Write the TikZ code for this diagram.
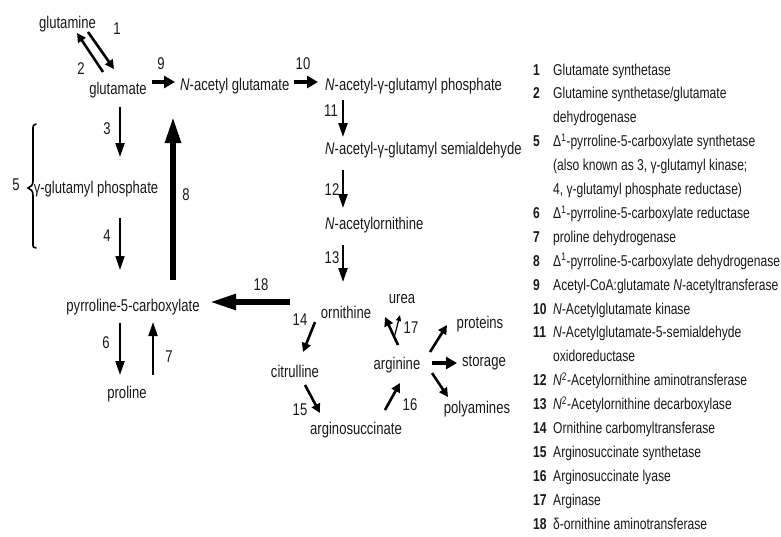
\documentclass[tikz,border=0pt]{standalone}
\usepackage{fontspec}
\newfontfamily\condsans{Liberation Sans}[FakeStretch=0.77]
\usetikzlibrary{arrows.meta}

\begin{document}
\begin{tikzpicture}[x=1pt,y=-1pt,
  font=\condsans\fontsize{17}{20}\selectfont, text=black!90,
  cmp/.style={inner sep=2pt,text height=12pt,text depth=3.5pt},
  num/.style={inner sep=0pt},
  arrA/.style={line width=2.6pt,-{Triangle[length=9pt,width=9pt]}},
  arrV/.style={line width=2.2pt,-{Triangle[length=14pt,width=9pt]}},
  arrB/.style={line width=4pt,-{Triangle[length=11pt,width=12pt]}},
  arrC/.style={line width=5.5pt,-{Triangle[length=26pt,width=15pt]}},
  arrT/.style={line width=1.2pt,-{Triangle[length=6pt,width=5pt]}},
]
\useasboundingbox (0,0) rectangle (781,536);

% ---------------- compounds ----------------
\node[cmp] (glutamine) at (67.5,24) {glutamine};
\node[cmp] (glutamate) at (118,90) {glutamate};
\node[cmp,anchor=west] (nacglu) at (178,86) {\textit{N}-acetyl glutamate};
\node[cmp,anchor=west] (nacglup) at (323,86) {\textit{N}-acetyl-γ-glutamyl phosphate};
\node[cmp,anchor=west] (nacsemi) at (323,150) {\textit{N}-acetyl-γ-glutamyl semialdehyde};
\node[cmp,anchor=west] (nacorn) at (323,225) {\textit{N}-acetylornithine};
\node[cmp] (ornithine) at (346,314) {ornithine};
\node[cmp] (urea) at (402,299) {urea};
\node[cmp] (gglup) at (96,189) {γ-glutamyl phosphate};
\node[cmp] (pfc) at (133,307) {pyrroline-5-carboxylate};
\node[cmp] (proline) at (127,394) {proline};
\node[cmp] (citrulline) at (295,373) {citrulline};
\node[cmp] (argsucc) at (356,430) {arginosuccinate};
\node[cmp] (arginine) at (397,365) {arginine};
\node[cmp] (proteins) at (480,324) {proteins};
\node[cmp] (storage) at (484,362) {storage};
\node[cmp] (polyamines) at (477,409) {polyamines};

% ---------------- reactions ----------------
\draw[arrA] ([shift={(20.5,8)}]glutamine.center) -- ([shift={(-4,-21)}]glutamate.center);
\draw[arrA] ([shift={(-15,-18)}]glutamate.center) -- ([shift={(9.5,9)}]glutamine.center);
\draw[arrB] ([shift={(34,-8)}]glutamate.center) -- ([shift={(-3,-4)}]nacglu.west);
\draw[arrB] ([shift={(2,-4)}]nacglu.east) -- ([shift={(-5,-4)}]nacglup.west);
\draw[arrV] ([shift={(20,14)}]nacglup.west) -- ([shift={(20,-13)}]nacsemi.west);
\draw[arrV] ([shift={(20,20)}]nacsemi.west) -- ([shift={(20,-17)}]nacorn.west);
\draw[arrV] ([shift={(20,20)}]nacorn.west) -- ([shift={(-3,-32)}]ornithine.center);
\draw[arrC] ([shift={(-56,-12)}]ornithine.center) -- ([shift={(77,-5)}]pfc.center);
\draw[arrV] ([shift={(2,17)}]glutamate.center) -- ([shift={(24,-32)}]gglup.center);
\draw[arrV,line width=1.4pt] ([shift={(24,29)}]gglup.center) -- ([shift={(-13,-37)}]pfc.center);
\draw[arrV] ([shift={(-13,16)}]pfc.center) -- ([shift={(-7,-19)}]proline.center);
\draw[arrV] ([shift={(26,-19)}]proline.center) -- ([shift={(20,15)}]pfc.center);
\draw[arrC] ([shift={(40,-27)}]pfc.center) -- ([shift={(55,27)}]glutamate.center);
\draw[arrA] ([shift={(-31,8)}]ornithine.center) -- ([shift={(8,-21)}]citrulline.center);
\draw[arrA] ([shift={(10,12)}]citrulline.center) -- ([shift={(-36,-17)}]argsucc.center);
\draw[arrA] ([shift={(29,-20)}]argsucc.center) -- ([shift={(3,18)}]arginine.center);
\draw[arrA] ([shift={(1,-20)}]arginine.center) -- ([shift={(-12,-48)}]arginine.center);
\draw[arrT] ([shift={(-3,-27)}]arginine.center) -- ([shift={(-2,16)}]urea.center);
\draw[arrA] ([shift={(33,-13)}]arginine.center) -- ([shift={(-33,1)}]proteins.center);
\draw[arrB] ([shift={(35,-2)}]arginine.center) -- ([shift={(-27,1)}]storage.center);
\draw[arrA] ([shift={(35,8)}]arginine.center) -- ([shift={(-29,-12)}]polyamines.center);

% brace for 5
\draw[line width=1.6pt,line cap=round] (36,124) .. controls (33,124) and (33,126) .. (33,130)
  -- (33,181) .. controls (33,185) and (31,187) .. (28,188)
  .. controls (31,189) and (33,191) .. (33,195) -- (33,243)
  .. controls (33,247) and (33,248) .. (36,248);

% ---------------- step numbers ----------------
\node[num] (n1) at (117,29) {1};
\node[num] (n2) at (81,69) {2};
\node[num] (n3) at (107,129) {3};
\node[num] (n4) at (107,236) {4};
\node[num] (n5) at (16,185) {5};
\node[num] (n6) at (106,343) {6};
\node[num] (n7) at (169,357) {7};
\node[num] (n8) at (186,195) {8};
\node[num] (n9) at (161,64) {9};
\node[num] (n10) at (303,64) {10};
\node[num] (n11) at (331,111) {11};
\node[num] (n12) at (332,190) {12};
\node[num] (n13) at (332,258) {13};
\node[num] (n14) at (300,320) {14};
\node[num] (n15) at (300,410) {15};
\node[num] (n16) at (410,405) {16};
\node[num] (n17) at (411,328) {17};
\node[num] (n18) at (261,285) {18};

% ---------------- enzyme key ----------------
\node[inner sep=0pt,anchor=base west,font=\condsans\fontsize{15.7}{23.9}\selectfont] (key) at (533,75)
  {\begin{tabular}[t]{@{}p{20pt}@{}l@{}}
   \textbf{1} & Glutamate synthetase\\
   \textbf{2} & Glutamine synthetase/glutamate\\
              & dehydrogenase\\
   \textbf{5} & Δ\textsuperscript{1}-pyrroline-5-carboxylate synthetase\\
              & (also known as 3, γ-glutamyl kinase;\\
              & 4, γ-glutamyl phosphate reductase)\\
   \textbf{6} & Δ\textsuperscript{1}-pyrroline-5-carboxylate reductase\\
   \textbf{7} & proline dehydrogenase\\
   \textbf{8} & Δ\textsuperscript{1}-pyrroline-5-carboxylate dehydrogenase\\
   \textbf{9} & Acetyl-CoA:glutamate \textit{N}-acetyltransferase\\
   \textbf{10} & \textit{N}-Acetylglutamate kinase\\
   \textbf{11} & \textit{N}-Acetylglutamate-5-semialdehyde\\
               & oxidoreductase\\
   \textbf{12} & \textit{N}\textsuperscript{2}-Acetylornithine aminotransferase\\
   \textbf{13} & \textit{N}\textsuperscript{2}-Acetylornithine decarboxylase\\
   \textbf{14} & Ornithine carbomyltransferase\\
   \textbf{15} & Arginosuccinate synthetase\\
   \textbf{16} & Arginosuccinate lyase\\
   \textbf{17} & Arginase\\
   \textbf{18} & δ-ornithine aminotransferase
  \end{tabular}};
\end{tikzpicture}
\end{document}
